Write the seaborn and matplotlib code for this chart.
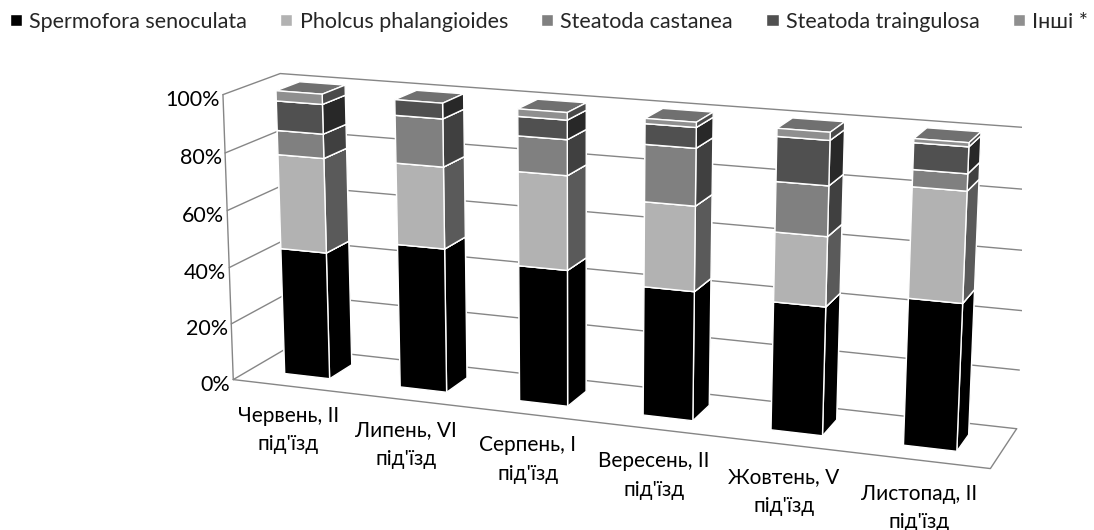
#---Spider species share by month, 3D stacked bars
import numpy as np
import matplotlib
matplotlib.use('Agg')
import matplotlib.pyplot as plt
import seaborn as sns
from matplotlib.patches import Patch

#---data
months = ['Червень, II', 'Липень, VI', 'Серпень, I', 'Вересень, II', 'Жовтень, V', 'Листопад, II']
species = ['Spermofora senoculata', 'Pholcus phalangioides', 'Steatoda castanea', 'Steatoda traingulosa', 'Інші *']
spermofora = [44.9, 50.3, 47.0, 44.0, 43.2, 48.7]
pholcus = [33.0, 28.1, 32.0, 28.5, 23.1, 36.0]
castanea = [8.4, 16.3, 12.0, 19.0, 16.5, 5.5]
traingulosa = [10.2, 5.3, 6.5, 6.8, 14.6, 8.5]
other = [3.5, 0.0, 2.5, 1.7, 2.6, 1.3]
percent_ticks = [0, 20, 40, 60, 80, 100]

#---colours: front face, side face, top face
front = ['#000000', '#b2b2b2', '#808080', '#505050', '#8f8f8f']
side = ['#000000', '#5a5a5a', '#404040', '#282828', '#4a4a4a']
top = '#707070'
wall = '#868686'

sns.set_theme(style='white')
plt.rcParams['font.family'] = ['Lato', 'Noto Sans']

fig = plt.figure(figsize=(10.94, 5.30), dpi=100)
#square axes larger than the figure so the box lands where the chart sits
ax = fig.add_axes([183.5/1094, -160.0/530, 838.7/1094, 838.7/530], projection='3d')
ax.set_xlim(0, 6, view_margin=0)
ax.set_ylim(0, 1, view_margin=0)
ax.set_zlim(0, 100, view_margin=0)
ax.view_init(14.63, -70.14, -0.20)
ax.set_proj_type('persp', focal_length=0.5587)
ax.set_box_aspect((1, 0.1577, 0.3783))
ax.set_axis_off()
ax.computed_zorder = False

#bars, left to right and bottom to top so nearer faces paint last
gap = 0.3036
depth_from, depth_to = 0.3011, 0.7233
series = [spermofora, pholcus, castanea, traingulosa, other]
for k in range(len(months)):
    base = 0
    for j, vals in enumerate(series):
        v = vals[k]
        if v > 0:
            cols = [side[j], top, front[j], side[j], side[j], side[j]]
            ax.bar3d([k + gap], [depth_from], [base], [1 - 2*gap], [depth_to - depth_from], [v],
                     color=cols, edgecolor='white', linewidth=1, shade=False, zorder=10 + k*10 + j)
        base += v

#walls and gridlines
for z in percent_ticks:
    ax.plot([0, 0, 6], [0, 1, 1], [z, z, z], color=wall, lw=1, zorder=1)
    ax.text(-0.03, 0, z - 2, f'{z}%', ha='right', va='center', fontsize=15.5, color='black')
ax.plot([0, 0], [0, 0], [0, 100], color=wall, lw=1, zorder=1)
ax.plot([0, 6, 6], [0, 0, 1], [0, 0, 0], color=wall, lw=1, zorder=1)

for k, m in enumerate(months):
    ax.text(k + 0.52, -0.1, -14.3, m + "\nпід'їзд", ha='center', va='center', fontsize=15, linespacing=1.55, color='black')

handles = [Patch(facecolor=front[j], label=species[j]) for j in range(len(species))]
fig.legend(handles=handles, loc='upper left', bbox_to_anchor=(10/1094, 1 - 12/530), ncol=5, frameon=False, fontsize=15.5,
           borderpad=0, borderaxespad=0, handlelength=0.56, handleheight=0.5, handletextpad=0.33, columnspacing=1.55)

fig.savefig('out.png', dpi=100)
